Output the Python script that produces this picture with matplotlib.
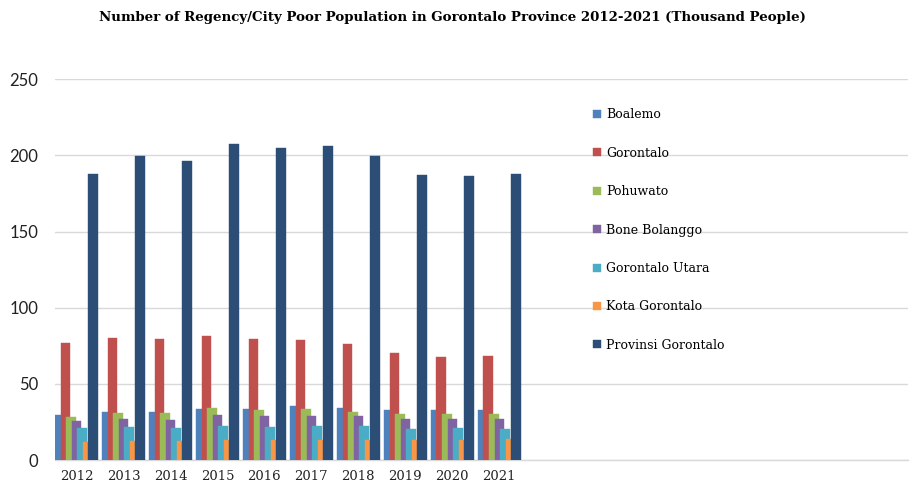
import matplotlib
matplotlib.use("Agg")
import matplotlib.pyplot as plt
import numpy as np

years = ["2012", "2013", "2014", "2015", "2016", "2017", "2018", "2019", "2020", "2021"]
series_names = ["Boalemo", "Gorontalo", "Pohuwato", "Bone Bolanggo",
                "Gorontalo Utara", "Kota Gorontalo", "Provinsi Gorontalo"]
boalemo = [29.6, 31.8, 31.8, 33.3, 33.3, 35.7, 34.2, 32.6, 32.6, 32.6]
gorontalo = [77.1, 80.0, 79.3, 81.7, 79.3, 78.6, 76.2, 70.1, 67.7, 68.5]
pohuwato = [28.5, 31.1, 31.1, 34.2, 32.6, 33.3, 31.8, 30.2, 30.2, 30.2]
bone_bolango = [25.6, 27.2, 26.3, 29.3, 28.7, 28.7, 28.7, 27.2, 27.2, 27.2]
gorontalo_utara = [20.8, 21.7, 20.8, 22.6, 21.7, 22.6, 22.6, 20.1, 20.8, 20.1]
kota_gorontalo = [11.8, 12.5, 12.5, 13.1, 13.1, 13.1, 13.1, 13.1, 13.1, 14.0]
provinsi = [188.0, 199.5, 196.2, 207.6, 204.8, 206.2, 199.5, 187.0, 186.2, 187.8]
colors = ["#4F81BD", "#C0504D", "#9BBB59", "#8064A2", "#4BACC6", "#F79646", "#2C4D75"]

data = [boalemo, gorontalo, pohuwato, bone_bolango, gorontalo_utara, kota_gorontalo, provinsi]

W, H = 912, 486
fig = plt.figure(figsize=(W / 100, H / 100), dpi=100)
ax = fig.add_axes([55 / W, 1 - 460 / H, (908 - 55) / W, (460 - 79.3) / H])

x = np.arange(len(years))
stride = 0.1175
width = 0.203
n = len(data)
for i, (vals, name, c) in enumerate(zip(data, series_names, colors)):
    off = (i - (n - 1) / 2) * stride
    ax.bar(x + off, vals, width=width, color=c, label=name, zorder=3 + i,
           edgecolor=c, linewidth=0.3)

ax.set_ylim(0, 250)
ax.set_xlim(-0.457, 17.7)
ax.set_yticks([0, 50, 100, 150, 200, 250])
ax.set_xticks(x)
ax.set_xticklabels(years, fontfamily="DejaVu Serif", fontsize=9.5)
for lab in ax.get_yticklabels():
    lab.set_fontfamily("Lato")
    lab.set_fontsize(12)
ax.tick_params(axis="both", length=0, colors="#222222")
ax.tick_params(axis="y", pad=12)
ax.tick_params(axis="x", pad=7)
ax.grid(axis="y", color="#D9D9D9", linewidth=1, zorder=0)
ax.set_axisbelow(True)
for s in ["top", "right", "left"]:
    ax.spines[s].set_visible(False)
ax.spines["bottom"].set_color("#D9D9D9")
ax.spines["bottom"].set_linewidth(1)

leg = ax.legend(loc="upper left", bbox_to_anchor=(593 / W, 1 - 108.5 / H),
                bbox_transform=fig.transFigure, frameon=False,
                prop={"family": "DejaVu Serif", "size": 9},
                handlelength=0.6, handleheight=0.6, handletextpad=0.45,
                labelspacing=2.03, borderaxespad=0, borderpad=0)

fig.text(452 / W, 1 - 17 / H,
         "Number of Regency/City Poor Population in Gorontalo Province 2012-2021 (Thousand People)",
         ha="center", va="center", fontfamily="DejaVu Serif", fontweight="bold", fontsize=9.6)

fig.savefig("out.png", dpi=100)
